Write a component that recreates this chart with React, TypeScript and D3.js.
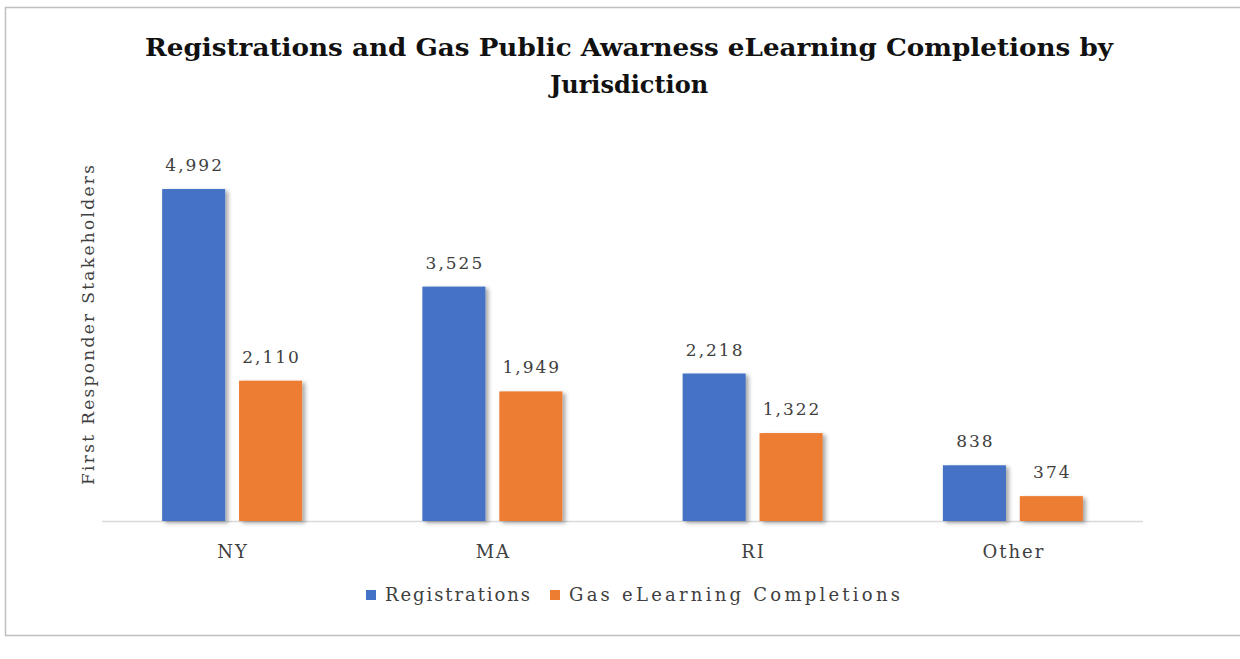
import * as d3 from 'd3';
import { useEffect, useRef } from 'react';

const categories = ['NY', 'MA', 'RI', 'Other'];
const seriesNames = ['Registrations', 'Gas eLearning Completions'];
const registrations = [4992, 3525, 2218, 838];
const completions = [2110, 1949, 1322, 374];
const colors = ['#4472C4', '#ED7D31'];

const W = 1240, H = 659;
const font = '"DejaVu Serif", serif';

const App = () => {
  const svgRef = useRef<SVGSVGElement>(null);

  useEffect(() => {
    const svg = d3.select(svgRef.current);
    svg.selectAll('*').remove();

    const defs = svg.append('defs');
    const f = defs.append('filter').attr('id', 'shadow')
      .attr('x', '-20%').attr('y', '-20%').attr('width', '150%').attr('height', '150%');
    f.append('feDropShadow').attr('dx', 3).attr('dy', 2).attr('stdDeviation', 2)
      .attr('flood-color', '#000').attr('flood-opacity', 0.35);

    // chart frame
    svg.append('rect').attr('x', 5.5).attr('y', 7.5).attr('width', 1250).attr('height', 628)
      .attr('fill', '#fff').attr('stroke', '#bfbfbf').attr('stroke-width', 1.5);

    // title
    const title = svg.append('text').attr('text-anchor', 'middle')
      .attr('font-family', font).attr('font-weight', 'bold').attr('font-size', 24).attr('fill', '#111');
    title.append('tspan').attr('x', 629).attr('y', 56)
      .attr('textLength', 968).attr('lengthAdjust', 'spacingAndGlyphs')
      .text('Registrations and Gas Public Awarness eLearning Completions by');
    title.append('tspan').attr('x', 629).attr('y', 93).text('Jurisdiction');

    const y = d3.scaleLinear().domain([0, 6000]).range([521, 122]);
    const x0 = d3.scaleBand().domain(categories).range([102, 1143]).paddingInner(0);
    const groupW = 140;
    const x1 = d3.scaleBand().domain(seriesNames).range([0, groupW]).paddingInner(0.18);

    // axis line
    svg.append('line').attr('x1', 102).attr('x2', 1143).attr('y1', y(0) + 0.5).attr('y2', y(0) + 0.5)
      .attr('stroke', '#d9d9d9').attr('stroke-width', 1.5);

    const values = [registrations, completions];
    categories.forEach((c, i) => {
      const gx = (x0(c) ?? 0) + (x0.bandwidth() - groupW) / 2;
      seriesNames.forEach((s, j) => {
        const v = values[j][i];
        const bx = gx + (x1(s) ?? 0);
        svg.append('rect').attr('x', bx).attr('y', y(v))
          .attr('width', x1.bandwidth()).attr('height', y(0) - y(v))
          .attr('fill', colors[j]).attr('filter', 'url(#shadow)');
        svg.append('text').attr('x', bx + x1.bandwidth() / 2 + 1).attr('y', y(v) - 18)
          .attr('text-anchor', 'middle').attr('font-family', font).attr('font-size', 17)
          .attr('letter-spacing', 2).attr('fill', '#404040').text(d3.format(',')(v));
      });
      svg.append('text').attr('x', (x0(c) ?? 0) + x0.bandwidth() / 2 + 1).attr('y', 558)
        .attr('text-anchor', 'middle').attr('font-family', font).attr('font-size', 18)
        .attr('letter-spacing', 2).attr('fill', '#404040').text(c);
    });

    // y axis title
    svg.append('text').attr('transform', 'translate(94,325) rotate(-90)')
      .attr('text-anchor', 'middle').attr('font-family', font).attr('font-size', 17)
      .attr('textLength', 320).attr('lengthAdjust', 'spacing')
      .attr('fill', '#404040').text('First Responder Stakeholders');

    // legend
    const legendX = [366, 550];
    const legendLen = [145, 331];
    seriesNames.forEach((s, j) => {
      svg.append('rect').attr('x', legendX[j]).attr('y', 590).attr('width', 10).attr('height', 10)
        .attr('fill', colors[j]);
      svg.append('text').attr('x', legendX[j] + 19).attr('y', 601)
        .attr('font-family', font).attr('font-size', 18)
        .attr('textLength', legendLen[j]).attr('lengthAdjust', 'spacing')
        .attr('fill', '#404040').text(s);
    });
  }, []);

  return <svg ref={svgRef} width={W} height={H}
    style={{ position: 'absolute', left: 0, top: 0, background: '#fff' }} />;
};

export default App;
